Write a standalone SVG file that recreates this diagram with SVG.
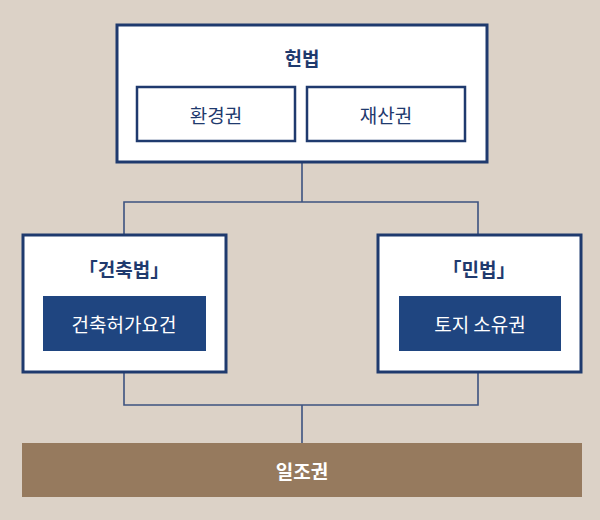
<svg xmlns="http://www.w3.org/2000/svg" width="600" height="520" viewBox="0 0 600 520">
<style>
.box{fill:#fff;stroke:#1f3a6e;stroke-width:3}
.inner{fill:#fff;stroke:#1f3a6e;stroke-width:2.5}
.fill{fill:#1f4580}
.t{font-family:"Noto Sans CJK KR","Noto Sans",sans-serif;font-size:19px;text-anchor:middle;dominant-baseline:central}
.title{fill:#1f3a6e;font-weight:bold}
.dark{fill:#1f3a6e}
.w{fill:#fff}
.c{fill:none;stroke:#3d5380;stroke-width:1.6}
</style>
<rect x="0" y="0" width="600" height="520" fill="#dcd2c7"/>
<g id="connectors">
<path class="c" d="M302 162V202M124 235V202H478V235"/>
<path class="c" d="M124 372V405H478V372M302 405V443"/>
</g>
<g id="constitution">
<rect class="box" x="117" y="25" width="370" height="137"/>
<text class="t title" x="302" y="57">헌법</text>
</g>
<g id="env">
<rect class="inner" x="137" y="87" width="158" height="54"/>
<text class="t dark" x="216" y="114">환경권</text>
</g>
<g id="prop">
<rect class="inner" x="307" y="87" width="158" height="54"/>
<text class="t dark" x="386" y="114">재산권</text>
</g>
<g id="building">
<rect class="box" x="23" y="235" width="203" height="137"/>
<text class="t title" x="124" y="268">「건축법」</text>
<rect class="fill" x="43" y="296" width="163" height="55"/>
<text class="t w" x="124" y="323">건축허가요건</text>
</g>
<g id="civil">
<rect class="box" x="378" y="235" width="203" height="137"/>
<text class="t title" x="479" y="268">「민법」</text>
<rect class="fill" x="399" y="296" width="162" height="55"/>
<text class="t w" x="480" y="323">토지 소유권</text>
</g>
<g id="sunlight">
<rect x="22" y="443" width="560" height="54" fill="#967a5e"/>
<text class="t w" x="302" y="470" font-weight="bold">일조권</text>
</g>
</svg>
